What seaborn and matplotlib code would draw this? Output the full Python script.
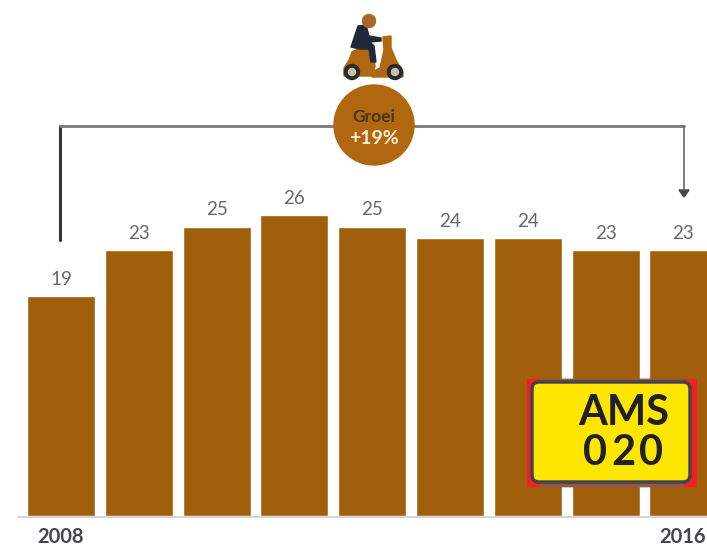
import matplotlib
matplotlib.use("Agg")
import matplotlib.pyplot as plt
from matplotlib.patches import Circle, FancyBboxPatch, Polygon, Rectangle
import pandas as pd
import seaborn as sns

# Data
years = ["2008", "2009", "2010", "2011", "2012", "2013", "2014", "2015", "2016"]
values = [19, 23, 25, 26, 25, 24, 24, 23, 23]
first_year = "2008"
last_year = "2016"
growth_label = "+19%"

BROWN = "#A15F0B"
BADGE = "#B0670F"
GREY = "#66666e"

sns.set_theme(style="white")
plt.rcParams["font.family"] = ["Lato", "DejaVu Sans"]

df = pd.DataFrame({"year": years, "value": values})

fig = plt.figure(figsize=(7.07, 5.48), dpi=100)

# Bars fill the whole canvas, limits chosen so 0 sits on the baseline
ax = fig.add_axes([0, 0, 1, 1])
sns.barplot(data=df, x="year", y="value", color=BROWN, saturation=1, width=0.875, ax=ax)
ax.set_xlim(-61 / 77.8, (707 - 61) / 77.8)
ax.set_ylim(-32 / 11.57, 516 / 11.57)
ax.axis("off")
for i, v in enumerate(values):
    ax.text(i, v + 0.72, str(v), ha="center", va="bottom", fontsize=13.5, color=GREY)

# Overlay in pixel coordinates for the annotations
over = fig.add_axes([0, 0, 1, 1], facecolor="none")
over.set_xlim(0, 707)
over.set_ylim(548, 0)
over.axis("off")

# Axis line and end labels
over.plot([18, 707], [517, 517], color="#d5d5d5", lw=1.5)
over.text(61, 537, first_year, ha="center", va="center", fontsize=14.5, fontweight="bold", color="#44444c")
over.text(683, 537, last_year, ha="center", va="center", fontsize=14.5, fontweight="bold", color="#44444c")

# Bracket
over.plot([60, 60], [240, 126], color="#333338", lw=2.2, solid_capstyle="round")
over.plot([60, 684], [126, 126], color="#77777c", lw=2)
over.plot([684, 684], [126, 190], color="#66666a", lw=1.2)
over.add_patch(Polygon([[679, 190], [689, 190], [684, 197]], color="#44444a"))

# Badge
over.add_patch(Circle((374, 125), 40, color=BADGE, zorder=3))
over.text(374, 117, "Groei", ha="center", va="center", fontsize=12.5, fontweight="bold", color="#4a3418", zorder=4)
over.text(374, 138, growth_label, ha="center", va="center", fontsize=14, fontweight="bold", color="#fff0dc", zorder=4)

# Scooter and rider
over.add_patch(Polygon([[352, 52], [349, 60], [344, 68], [344, 76], [373, 76], [375, 66],
                        [373, 50], [362, 47]], color=BADGE, zorder=3))
over.add_patch(Polygon([[372, 72], [380, 68], [384, 50], [383, 37], [391, 36], [391, 48], [396, 60],
                        [403, 72], [403, 77], [372, 77]], color=BADGE, zorder=3))
over.add_patch(Polygon([[351, 47], [358, 26], [366, 25], [369, 36], [381, 38], [381, 41], [370, 42],
                        [374, 46], [376, 62], [371, 62], [369, 49], [360, 49]], color="#20283a", zorder=4))
over.add_patch(Circle((369, 21), 6.5, color="#a9662a", zorder=4))
for cx in [352, 395]:
    over.add_patch(Circle((cx, 72), 7.5, color="#2a2a2e", zorder=5))
    over.add_patch(Circle((cx, 72), 3.5, color="#c8bfa8", zorder=6))

# Licence plate: red shows at the corners and sides, brownish rim top and bottom
over.add_patch(Rectangle((527, 379), 169, 107, color="#ee2222", zorder=5))
over.add_patch(Rectangle((540, 379), 143, 107, color="#8f5a4a", zorder=5))
over.add_patch(FancyBboxPatch((532, 382), 158, 100, boxstyle="round,pad=0,rounding_size=7",
                              facecolor="#FFE600", edgecolor="#44444c", lw=2.5, zorder=6))
over.text(624, 413, "AMS", ha="center", va="center", fontsize=30, fontweight="bold",
          family="Lato", color="#20202a", zorder=7)
for digit, dx in zip("020", [595, 623, 651]):
    over.text(dx, 453, digit, ha="center", va="center", fontsize=30, fontweight="bold",
              family="Lato", color="#20202a", zorder=7)

fig.savefig("out.png", dpi=100)
